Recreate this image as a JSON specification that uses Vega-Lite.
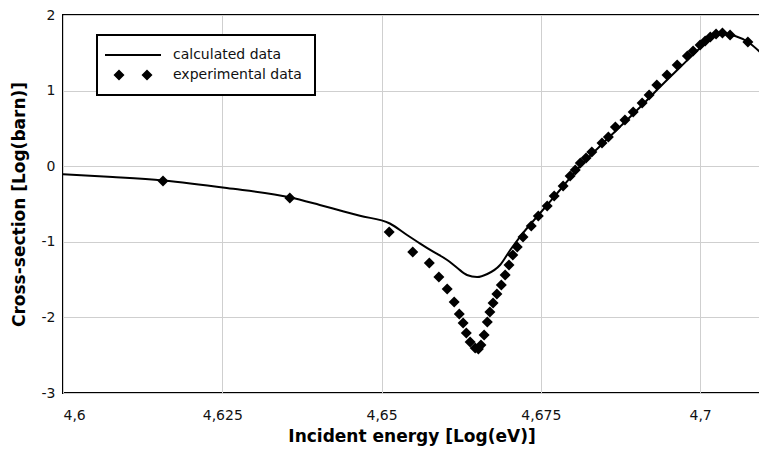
{
  "$schema": "https://vega.github.io/schema/vega-lite/v6.json",
  "width": 697,
  "height": 378,
  "autosize": {"type": "none"},
  "padding": {"left": 63, "top": 15, "right": 0, "bottom": 58},
  "background": "white",
  "config": {
    "view": {"stroke": "black", "strokeWidth": 2},
    "axis": {
      "labelFont": "DejaVu Sans",
      "labelFontSize": 14,
      "labelColor": "#111111",
      "titleFont": "DejaVu Sans",
      "titleFontSize": 17,
      "titleFontWeight": "bold",
      "titleColor": "black",
      "ticks": false,
      "domain": false,
      "grid": true,
      "gridColor": "#cfcfcf",
      "gridWidth": 1
    }
  },
  "datasets": {
    "calc": [
      {"energy": 4.6000, "xs": -0.107, "series": "calculated data"},
      {"energy": 4.6078, "xs": -0.143, "series": "calculated data"},
      {"energy": 4.6157, "xs": -0.189, "series": "calculated data"},
      {"energy": 4.6257, "xs": -0.288, "series": "calculated data"},
      {"energy": 4.6356, "xs": -0.411, "series": "calculated data"},
      {"energy": 4.6403, "xs": -0.513, "series": "calculated data"},
      {"energy": 4.6435, "xs": -0.586, "series": "calculated data"},
      {"energy": 4.6466, "xs": -0.656, "series": "calculated data"},
      {"energy": 4.6513, "xs": -0.758, "series": "calculated data"},
      {"energy": 4.6540, "xs": -0.910, "series": "calculated data"},
      {"energy": 4.6560, "xs": -1.020, "series": "calculated data"},
      {"energy": 4.6581, "xs": -1.131, "series": "calculated data"},
      {"energy": 4.6603, "xs": -1.241, "series": "calculated data"},
      {"energy": 4.6619, "xs": -1.347, "series": "calculated data"},
      {"energy": 4.6634, "xs": -1.439, "series": "calculated data"},
      {"energy": 4.6650, "xs": -1.466, "series": "calculated data"},
      {"energy": 4.6666, "xs": -1.426, "series": "calculated data"},
      {"energy": 4.6686, "xs": -1.307, "series": "calculated data"},
      {"energy": 4.6702, "xs": -1.108, "series": "calculated data"},
      {"energy": 4.6717, "xs": -0.937, "series": "calculated data"},
      {"energy": 4.6749, "xs": -0.619, "series": "calculated data"},
      {"energy": 4.6780, "xs": -0.315, "series": "calculated data"},
      {"energy": 4.6812, "xs": 0.003, "series": "calculated data"},
      {"energy": 4.6843, "xs": 0.267, "series": "calculated data"},
      {"energy": 4.6874, "xs": 0.519, "series": "calculated data"},
      {"energy": 4.6906, "xs": 0.783, "series": "calculated data"},
      {"energy": 4.6937, "xs": 1.048, "series": "calculated data"},
      {"energy": 4.6969, "xs": 1.312, "series": "calculated data"},
      {"energy": 4.7000, "xs": 1.563, "series": "calculated data"},
      {"energy": 4.7019, "xs": 1.696, "series": "calculated data"},
      {"energy": 4.7035, "xs": 1.749, "series": "calculated data"},
      {"energy": 4.7055, "xs": 1.722, "series": "calculated data"},
      {"energy": 4.7075, "xs": 1.643, "series": "calculated data"},
      {"energy": 4.7094, "xs": 1.511, "series": "calculated data"}
    ],
    "exp": [
      {"energy": 4.6157, "xs": -0.196, "series": "experimental data"},
      {"energy": 4.6356, "xs": -0.421, "series": "experimental data"},
      {"energy": 4.6512, "xs": -0.870, "series": "experimental data"},
      {"energy": 4.6549, "xs": -1.135, "series": "experimental data"},
      {"energy": 4.6575, "xs": -1.280, "series": "experimental data"},
      {"energy": 4.6590, "xs": -1.466, "series": "experimental data"},
      {"energy": 4.6603, "xs": -1.624, "series": "experimental data"},
      {"energy": 4.6614, "xs": -1.796, "series": "experimental data"},
      {"energy": 4.6622, "xs": -1.955, "series": "experimental data"},
      {"energy": 4.6628, "xs": -2.074, "series": "experimental data"},
      {"energy": 4.6633, "xs": -2.206, "series": "experimental data"},
      {"energy": 4.6639, "xs": -2.325, "series": "experimental data"},
      {"energy": 4.6647, "xs": -2.405, "series": "experimental data"},
      {"energy": 4.6652, "xs": -2.418, "series": "experimental data"},
      {"energy": 4.6656, "xs": -2.365, "series": "experimental data"},
      {"energy": 4.6661, "xs": -2.233, "series": "experimental data"},
      {"energy": 4.6666, "xs": -2.061, "series": "experimental data"},
      {"energy": 4.6670, "xs": -1.929, "series": "experimental data"},
      {"energy": 4.6675, "xs": -1.810, "series": "experimental data"},
      {"energy": 4.6681, "xs": -1.690, "series": "experimental data"},
      {"energy": 4.6688, "xs": -1.571, "series": "experimental data"},
      {"energy": 4.6694, "xs": -1.439, "series": "experimental data"},
      {"energy": 4.6700, "xs": -1.307, "series": "experimental data"},
      {"energy": 4.6706, "xs": -1.175, "series": "experimental data"},
      {"energy": 4.6713, "xs": -1.069, "series": "experimental data"},
      {"energy": 4.6722, "xs": -0.937, "series": "experimental data"},
      {"energy": 4.6735, "xs": -0.791, "series": "experimental data"},
      {"energy": 4.6746, "xs": -0.659, "series": "experimental data"},
      {"energy": 4.6760, "xs": -0.526, "series": "experimental data"},
      {"energy": 4.6771, "xs": -0.394, "series": "experimental data"},
      {"energy": 4.6785, "xs": -0.262, "series": "experimental data"},
      {"energy": 4.6796, "xs": -0.130, "series": "experimental data"},
      {"energy": 4.6804, "xs": -0.050, "series": "experimental data"},
      {"energy": 4.6812, "xs": 0.042, "series": "experimental data"},
      {"energy": 4.6821, "xs": 0.108, "series": "experimental data"},
      {"energy": 4.6830, "xs": 0.188, "series": "experimental data"},
      {"energy": 4.6846, "xs": 0.307, "series": "experimental data"},
      {"energy": 4.6856, "xs": 0.386, "series": "experimental data"},
      {"energy": 4.6867, "xs": 0.519, "series": "experimental data"},
      {"energy": 4.6882, "xs": 0.611, "series": "experimental data"},
      {"energy": 4.6895, "xs": 0.717, "series": "experimental data"},
      {"energy": 4.6909, "xs": 0.836, "series": "experimental data"},
      {"energy": 4.6920, "xs": 0.942, "series": "experimental data"},
      {"energy": 4.6932, "xs": 1.074, "series": "experimental data"},
      {"energy": 4.6948, "xs": 1.206, "series": "experimental data"},
      {"energy": 4.6964, "xs": 1.339, "series": "experimental data"},
      {"energy": 4.6980, "xs": 1.458, "series": "experimental data"},
      {"energy": 4.6989, "xs": 1.524, "series": "experimental data"},
      {"energy": 4.7000, "xs": 1.603, "series": "experimental data"},
      {"energy": 4.7008, "xs": 1.656, "series": "experimental data"},
      {"energy": 4.7016, "xs": 1.709, "series": "experimental data"},
      {"energy": 4.7025, "xs": 1.749, "series": "experimental data"},
      {"energy": 4.7035, "xs": 1.762, "series": "experimental data"},
      {"energy": 4.7047, "xs": 1.735, "series": "experimental data"},
      {"energy": 4.7075, "xs": 1.643, "series": "experimental data"}
    ]
  },
  "encoding": {
    "x": {
      "field": "energy",
      "type": "quantitative",
      "scale": {"domain": [4.6, 4.7094], "nice": false, "zero": false},
      "axis": {
        "title": "Incident energy [Log(eV)]",
        "values": [4.6, 4.625, 4.65, 4.675, 4.7],
        "labelExpr": "replace(format(datum.value, '.3~f'), '.', ',')",
        "labelPadding": 15,
        "titlePadding": 6
      }
    },
    "y": {
      "field": "xs",
      "type": "quantitative",
      "scale": {"domain": [-3, 2], "nice": false, "zero": false},
      "axis": {
        "title": "Cross-section [Log(barn)]",
        "values": [-3, -2, -1, 0, 1, 2],
        "labelExpr": "'' + datum.value",
        "labelPadding": 8,
        "titlePadding": 13
      }
    },
    "color": {
      "field": "series",
      "type": "nominal",
      "scale": {"domain": ["calculated data", "experimental data"], "range": ["black", "black"]},
      "legend": {
        "title": null,
        "orient": "none",
        "legendX": 34,
        "legendY": 20,
        "direction": "vertical",
        "fillColor": "white",
        "strokeColor": "black",
        "padding": 13,
        "rowPadding": 6,
        "labelFont": "DejaVu Sans",
        "labelFontSize": 14,
        "labelColor": "#111111",
        "symbolOffset": 16,
        "labelOffset": 33,
        "encode": {
          "legend": {"update": {"strokeWidth": {"value": 2}}},
          "symbols": {
            "update": {
              "shape": {"signal": "datum.value === 'calculated data' ? 'M-5.6,0H5.6' : 'M-3.9,0L-2.8,-1.1L-1.7,0L-2.8,1.1Z M1.7,0L2.8,-1.1L3.9,0L2.8,1.1Z'"},
              "size": {"value": 100},
              "fill": {"signal": "datum.value === 'calculated data' ? 'transparent' : 'black'"},
              "stroke": {"value": "black"},
              "strokeWidth": {"signal": "datum.value === 'calculated data' ? 2 : 0"},
              "opacity": {"value": 1}
            }
          }
        }
      }
    }
  },
  "layer": [
    {
      "data": {"name": "calc"},
      "mark": {"type": "line", "strokeWidth": 2, "interpolate": "monotone", "clip": true}
    },
    {
      "data": {"name": "exp"},
      "mark": {"type": "point", "shape": "diamond", "filled": true, "size": 121, "opacity": 1, "strokeWidth": 0, "clip": true}
    }
  ]
}
